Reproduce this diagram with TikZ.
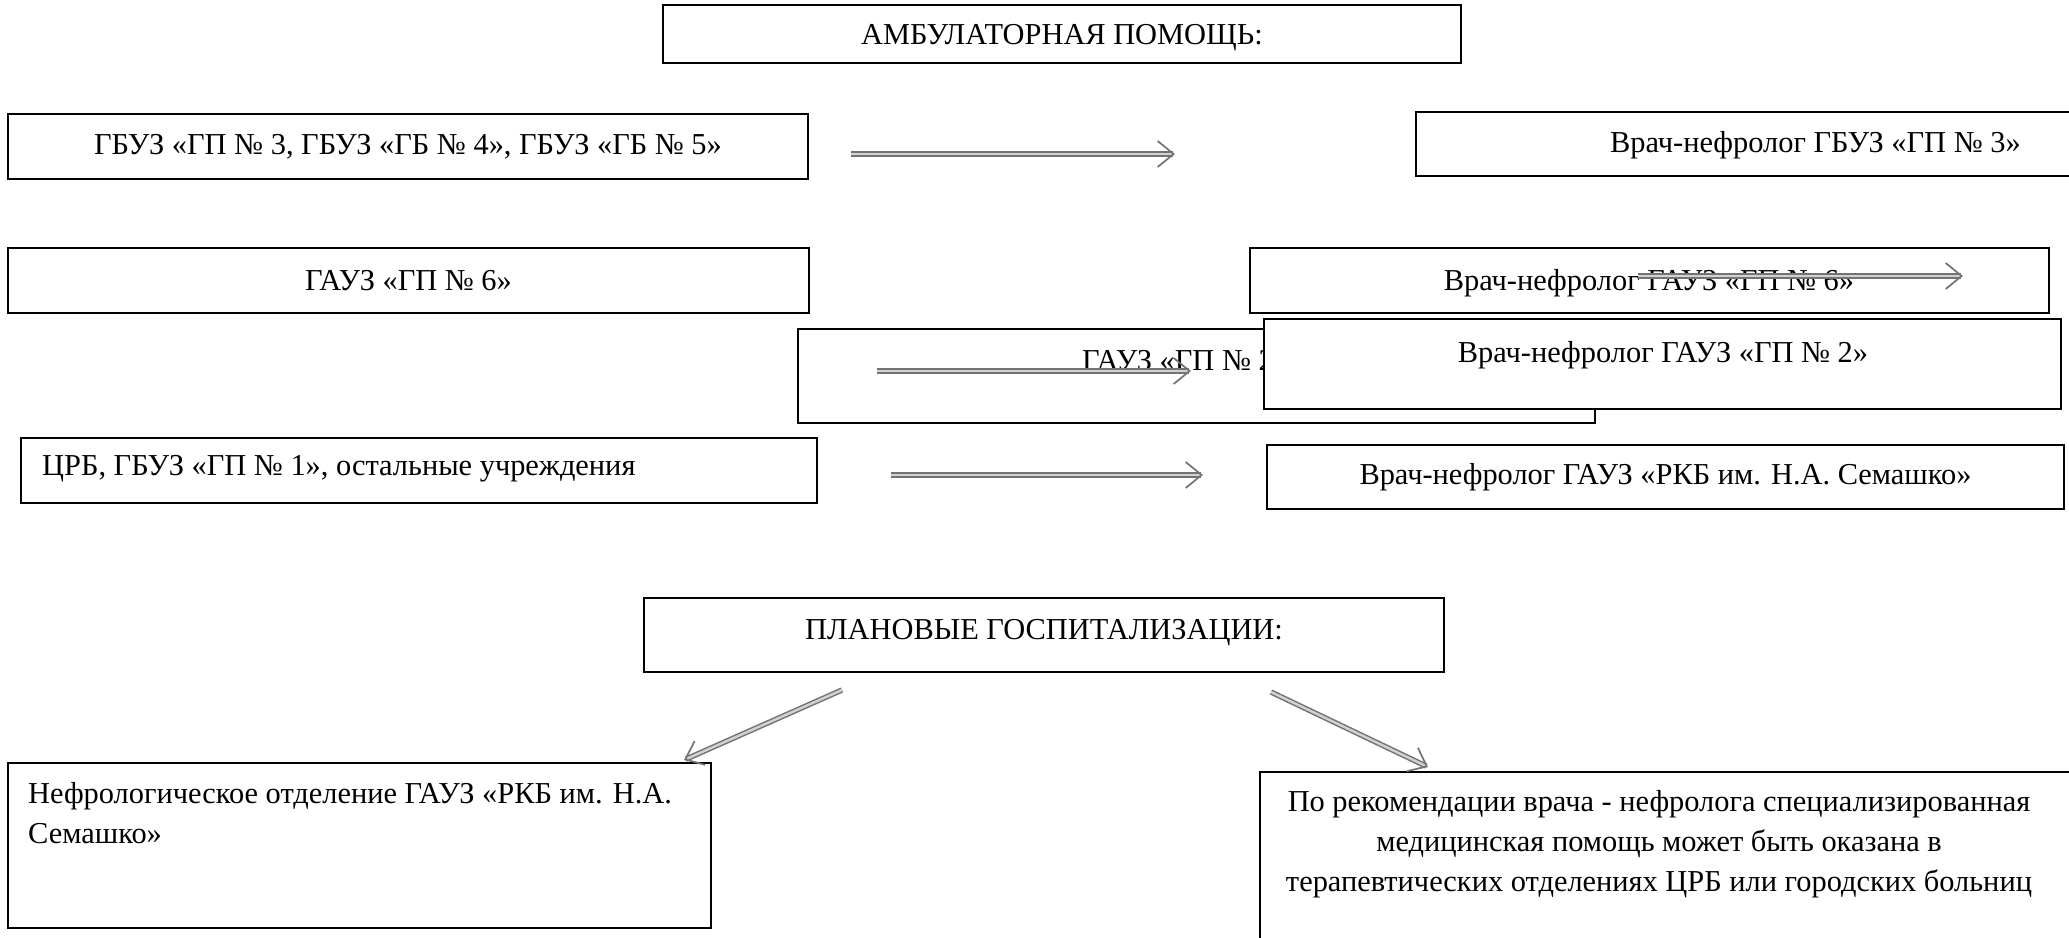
\documentclass[tikz,border=0pt]{standalone}
\usepackage{fontspec}
\setmainfont{Liberation Serif}
\usetikzlibrary{arrows.meta,decorations.markings}
\tikzset{
  boxn/.style={draw=black, line width=1.8pt, rectangle, anchor=north west, inner sep=0pt, outer sep=0pt},
  txt/.style={inner sep=0pt, font=\fontsize{30.4}{40}\selectfont},
  arr/.style={draw=black!55, line width=1.5pt, double=gray!35, double distance=2.4pt, shorten >=2pt,
              postaction={decorate, decoration={markings,
                mark=at position 1 with {\arrow[draw=black!55, line width=1.7pt]{Straight Barb[length=16pt,width=26pt]}}}}},
}
\newcommand{\bx}[5]{\node[boxn, minimum width=#4pt, minimum height=#5pt] (#1) at (#2,#3) {};}
\begin{document}
\begin{tikzpicture}[x=1pt,y=-1pt]
\useasboundingbox (0,0) rectangle (2069,937);
\clip (0,0) rectangle (2069,937);
\fill[white] (0,0) rectangle (2069,937);

% title
\bx{title}{663}{5}{798}{58}
\node[txt] (titlet) at (1062,38) {АМБУЛАТОРНАЯ ПОМОЩЬ:};

% row 1
\bx{b1}{8}{114}{800}{65}
\node[txt] (b1t) at (b1.center) {ГБУЗ «ГП № 3, ГБУЗ «ГБ № 4», ГБУЗ «ГБ № 5»};
\bx{r1}{1416}{112}{670}{64}
\node[txt, anchor=east] (r1t) at (2021,145) {Врач-нефролог ГБУЗ «ГП № 3»};

% row 2
\bx{b2}{8}{248}{801}{65}
\node[txt] (b2t) at (b2.center) {ГАУЗ «ГП № 6»};
\bx{r2}{1250}{248}{799}{65}
\node[txt] (r2t) at (1649,283) {Врач-нефролог ГАУЗ «ГП № 6»};

% row 3 (overlapping)
\bx{b3}{798}{329}{797}{94}
\node[txt, anchor=west] (b3t) at (1082,361) {ГАУЗ «ГП № 2»};
\node[boxn, fill=white, line width=2.6pt, minimum width=797pt, minimum height=90pt] (r3) at (1264,319) {};
\node[txt] (r3t) at (1663,355) {Врач-нефролог ГАУЗ «ГП № 2»};

% row 4
\bx{b4}{21}{438}{796}{65}
\node[txt, anchor=west] (b4t) at (42,469) {ЦРБ, ГБУЗ «ГП № 1», остальные учреждения};
\bx{r4}{1267}{445}{797}{64}
\node[txt] (r4t) at (r4.center) {Врач-нефролог ГАУЗ «РКБ им. Н.А. Семашко»};

% hospitalisation
\bx{plan}{644}{598}{800}{74}
\node[txt] (plant) at (1044,633) {ПЛАНОВЫЕ ГОСПИТАЛИЗАЦИИ:};

\bx{n1}{8}{763}{703}{165}
\node[txt, anchor=north west, align=left] (n1t) at (28,782) {Нефрологическое отделение ГАУЗ «РКБ им. Н.А.\\Семашко»};

\bx{n2}{1260}{772}{820}{175}
\node[txt, anchor=north, align=center] (n2t) at (1659,790) {По рекомендации врача - нефролога специализированная\\медицинская помощь может быть оказана в\\терапевтических отделениях ЦРБ или городских больниц};

% arrows
\coordinate (a1s) at (851,154); \coordinate (a1e) at (1175,154);
\coordinate (a2s) at (1638,276); \coordinate (a2e) at (1963,276);
\coordinate (a3s) at (877,371); \coordinate (a3e) at (1191,371);
\coordinate (a4s) at (891,475); \coordinate (a4e) at (1203,475);
\coordinate (a5s) at (842,690); \coordinate (a5e) at (684,760);
\coordinate (a6s) at (1271,692); \coordinate (a6e) at (1428,767);
\draw[arr] (a1s) -- (a1e);
\draw[arr] (a2s) -- (a2e);
\draw[arr] (a3s) -- (a3e);
\draw[arr] (a4s) -- (a4e);
\draw[arr] (a5s) -- (a5e);
\draw[arr] (a6s) -- (a6e);
\end{tikzpicture}
\end{document}
